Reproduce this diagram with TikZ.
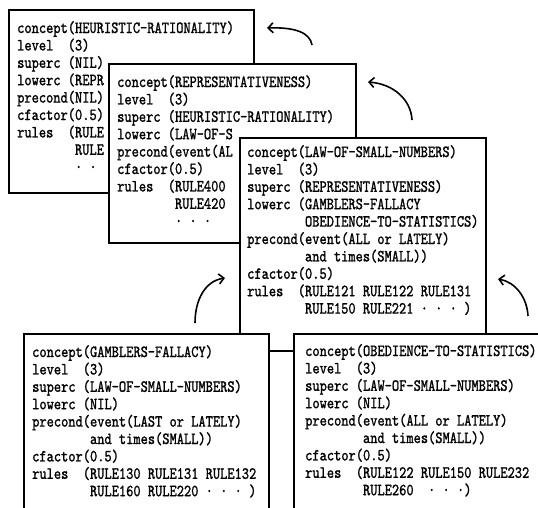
\documentclass[tikz,border=0pt]{standalone}
\usepackage{fontspec}
\newfontfamily\boxfont{lmmono10-regular.otf}[FakeStretch=0.81,FakeBold=1.2]
\usetikzlibrary{arrows.meta}
\begin{document}
\begin{tikzpicture}[x=1pt,y=-1pt,
  frame/.style={draw, line width=1.6pt, fill=white, rectangle, inner sep=0pt, anchor=north west},
  txt/.style={anchor=north west, inner sep=0pt, align=left, font=\boxfont\fontsize{17}{17.4}\selectfont},
  arr/.style={line width=1.6pt, -{Straight Barb[length=5pt,width=10pt]}}]
\useasboundingbox (0,0) rectangle (538,507);
\begin{scope}
\clip (0,0) rectangle (538,507);
% HEURISTIC-RATIONALITY
\node[frame, minimum width=245pt, minimum height=183pt] (h) at (8,9) {};
\node[txt] (ht) at (17,21) {concept(HEURISTIC-RATIONALITY)\\level~~(3)\\superc~(NIL)\\lowerc~(REPR\\precond(NIL)\\cfactor(0.5)\\rules~~(RULE\\~~~~~~~~RULE\\~~~~~~~~·~·};
% REPRESENTATIVENESS
\node[frame, minimum width=247pt, minimum height=179pt] (r) at (108,63) {};
\node[txt] (rt) at (117,75) {concept(REPRESENTATIVENESS)\\level~~(3)\\superc~(HEURISTIC-RATIONALITY)\\lowerc~(LAW-OF-S\\precond(event(AL\\cfactor(0.5)\\rules~~(RULE400\\~~~~~~~~RULE420\\~~~~~~~~·~·~·};
% LAW-OF-SMALL-NUMBERS
\node[frame, minimum width=246pt, minimum height=213pt] (l) at (239,137) {};
\node[txt] (lt) at (247,145) {concept(LAW-OF-SMALL-NUMBERS)\\level~~(3)\\superc~(REPRESENTATIVENESS)\\lowerc~(GAMBLERS-FALLACY\\~~~~~~~~OBEDIENCE-TO-STATISTICS)\\precond(event(ALL~or~LATELY)\\~~~~~~~~and~times(SMALL))\\cfactor(0.5)\\rules~~(RULE121~RULE122~RULE131\\~~~~~~~~RULE150~RULE221~·~·~·~)};
% GAMBLERS-FALLACY
\node[frame, minimum width=245pt, minimum height=200pt] (g) at (23,333) {};
\node[txt] (gt) at (32,345) {concept(GAMBLERS-FALLACY)\\level~~(3)\\superc~(LAW-OF-SMALL-NUMBERS)\\lowerc~(NIL)\\precond(event(LAST~or~LATELY)\\~~~~~~~~and~times(SMALL))\\cfactor(0.5)\\rules~~(RULE130~RULE131~RULE132\\~~~~~~~~RULE160~RULE220~·~·~·~)};
% OBEDIENCE-TO-STATISTICS
\node[frame, minimum width=280pt, minimum height=200pt] (o) at (293,333) {};
\node[txt] (ot) at (305,344) {concept(OBEDIENCE-TO-STATISTICS)\\level~~(3)\\superc~(LAW-OF-SMALL-NUMBERS)\\lowerc~(NIL)\\precond(event(ALL~or~LATELY)\\~~~~~~~~and~times(SMALL))\\cfactor(0.5)\\rules~~(RULE122~RULE150~RULE232\\~~~~~~~~RULE260~~·~·~·)};
\end{scope}
% arrows
\coordinate (a1t) at (312,45); \coordinate (a1h) at (267,28);
\draw[arr] (a1t) .. controls (310,33) and (296,27) .. (a1h);
\coordinate (a2t) at (412,120); \coordinate (a2h) at (368,82);
\draw[arr] (a2t) .. controls (411,100) and (394,84) .. (a2h);
\coordinate (a3t) at (528,316); \coordinate (a3h) at (498,279);
\draw[arr] (a3t) .. controls (527,297) and (515,282) .. (a3h);
\coordinate (a4t) at (195,323); \coordinate (a4h) at (225,278);
\draw[arr] (a4t) .. controls (195,300) and (205,281) .. (a4h);
\end{tikzpicture}
\end{document}
